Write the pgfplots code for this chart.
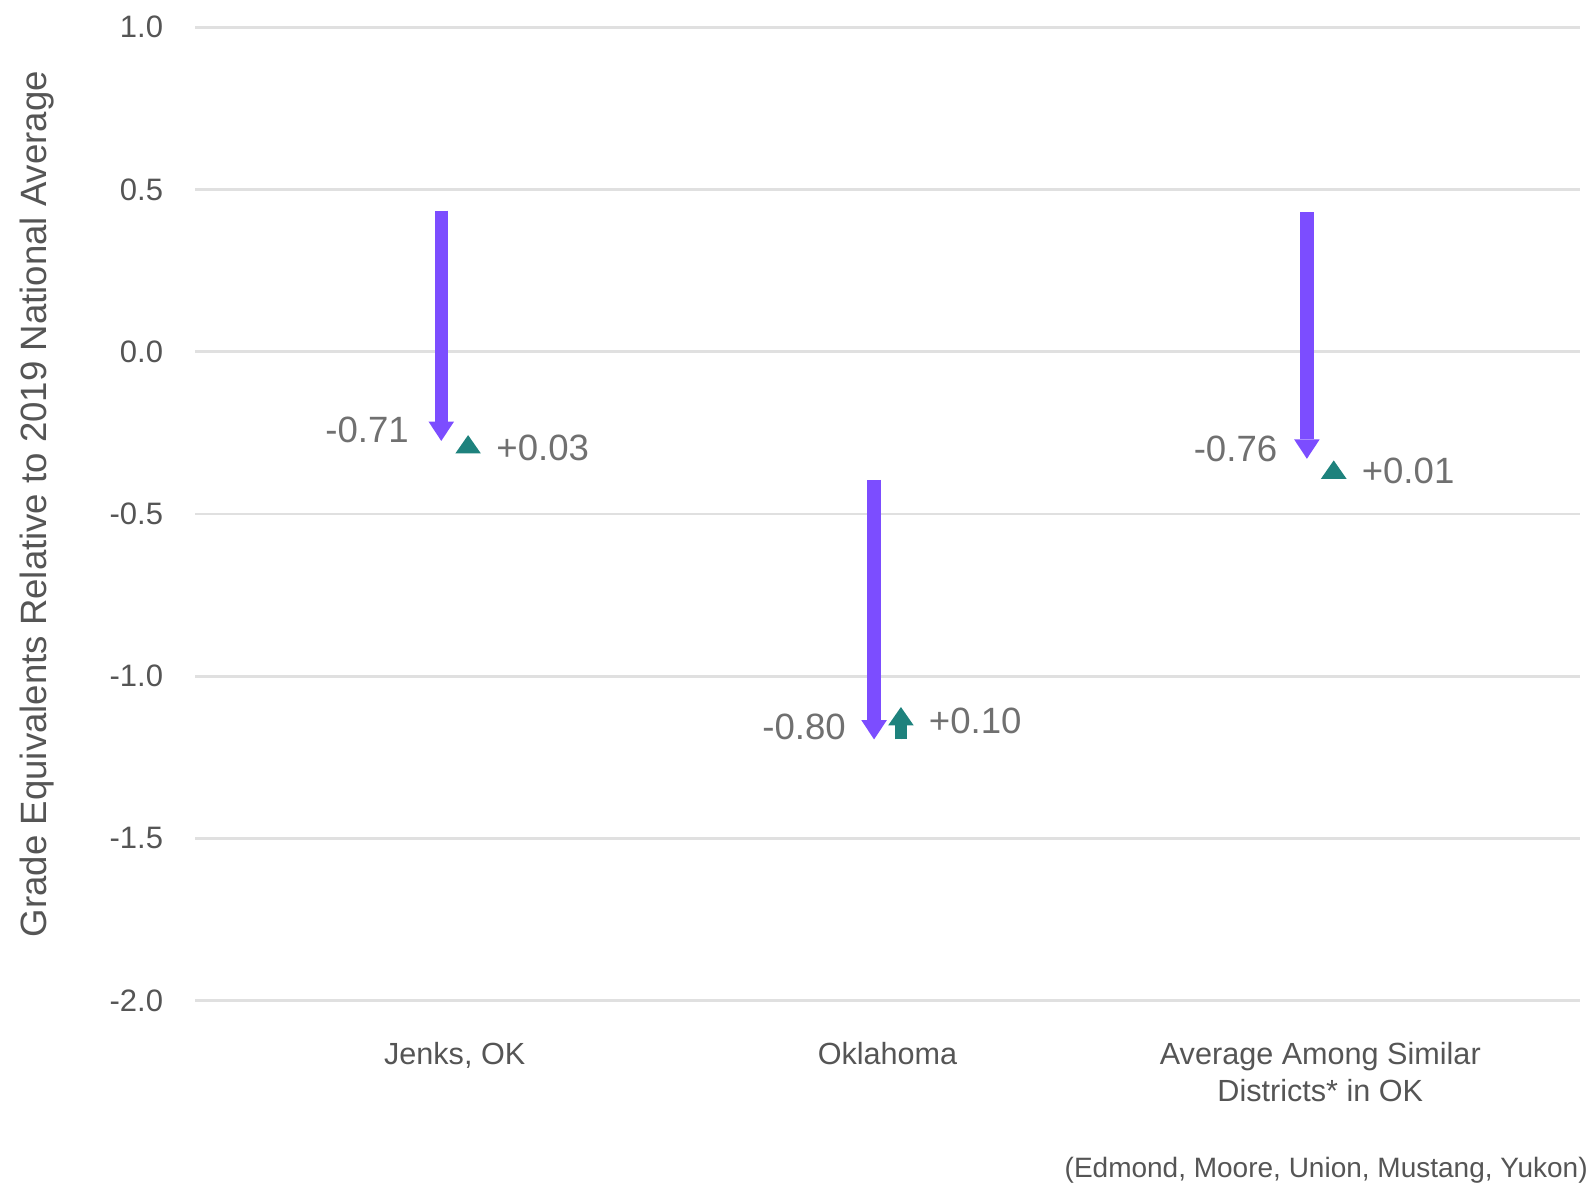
\documentclass[border=0pt]{standalone}
\usepackage{pgfplots}
\pgfplotsset{compat=1.18}
\usepackage{fontspec}
\setmainfont{Liberation Sans}
\usetikzlibrary{arrows.meta}
\definecolor{purp}{RGB}{124,77,255}
\definecolor{tealc}{RGB}{30,130,125}
\definecolor{gridc}{RGB}{224,224,224}
\definecolor{tickc}{RGB}{85,85,85}
\definecolor{annc}{RGB}{112,112,112}
\pgfplotstableread{
x y v
-0.031 0.435 -0.71
0.969 -0.395 -0.80
1.969 0.430 -0.76
}\purpdata
\pgfplotstableread{
x y v
0.031 -0.287 0.03
1.031 -1.195 0.10
2.031 -0.345 0.01
}\tealdata
\begin{document}
\begin{tikzpicture}
\begin{axis}[
  at={(0,0)}, anchor=south west,
  scale only axis,
  width=692.5pt, height=486.75pt,
  xmin=-0.6, xmax=2.6,
  ymin=-2, ymax=1,
  clip=false,
  axis line style={draw=none},
  tick style={draw=none},
  ymajorgrids,
  grid style={gridc, line width=1.4pt},
  ytick={-2,-1.5,-1,-0.5,0,0.5,1},
  yticklabels={-2.0,-1.5,-1.0,-0.5,0.0,0.5,1.0},
  yticklabel style={font=\fontsize{15.5}{18}\selectfont, text=tickc, anchor=east, inner sep=0pt, xshift=-15.8pt},
  xtick={0,1,2},
  xticklabels={{Jenks, OK},{Oklahoma},{Average Among Similar\\Districts* in OK}},
  xticklabel style={font=\fontsize{15.3}{18.8}\selectfont, text=tickc, align=center, anchor=north, inner sep=0pt, yshift=-20.5pt},
  ylabel={Grade Equivalents Relative to 2019 National Average},
  ylabel style={at={(axis description cs:-0.1143,0.5102)}, anchor=center, font=\fontsize{18.3}{22}\selectfont, text=tickc, inner sep=0pt},
]
\addplot[draw=purp, line width=6.7pt,
  -{Triangle[width=12.8pt,length=9.7pt,line width=0pt]},
  quiver={u=0, v=\thisrow{v}}] table[x=x,y=y] {\purpdata};
\addplot[draw=tealc, line width=6.2pt] coordinates {(1.031,-1.195) (1.031,-1.148)};
\addplot[draw=tealc, line width=0.3pt,
  -{Triangle[width=12.8pt,length=9.2pt,line width=0pt]},
  quiver={u=0, v=\thisrow{v}}] table[x=x,y=y] {\tealdata};
\begin{scope}[every node/.style={font=\fontsize{18.3}{22}\selectfont, text=annc, inner sep=0pt}]
\node[anchor=east] at (axis cs:-0.105,-0.241) {-0.71};
\node[anchor=east] at (axis cs:0.9046,-1.156) {-0.80};
\node[anchor=east] at (axis cs:1.9013,-0.300) {-0.76};
\node[anchor=west] at (axis cs:0.0954,-0.295) {+0.03};
\node[anchor=west] at (axis cs:1.0948,-1.137) {+0.10};
\node[anchor=west] at (axis cs:2.0948,-0.367) {+0.01};
\end{scope}
\node[anchor=east, inner sep=0pt, font=\fontsize{14}{17}\selectfont, text=tickc] at (axis description cs:1.0058,-0.1740) {(Edmond, Moore, Union, Mustang, Yukon)};
\end{axis}
\pgfresetboundingbox
\path (-97.5pt,-94.15pt) rectangle (699pt,500.35pt);
\end{tikzpicture}
\end{document}
